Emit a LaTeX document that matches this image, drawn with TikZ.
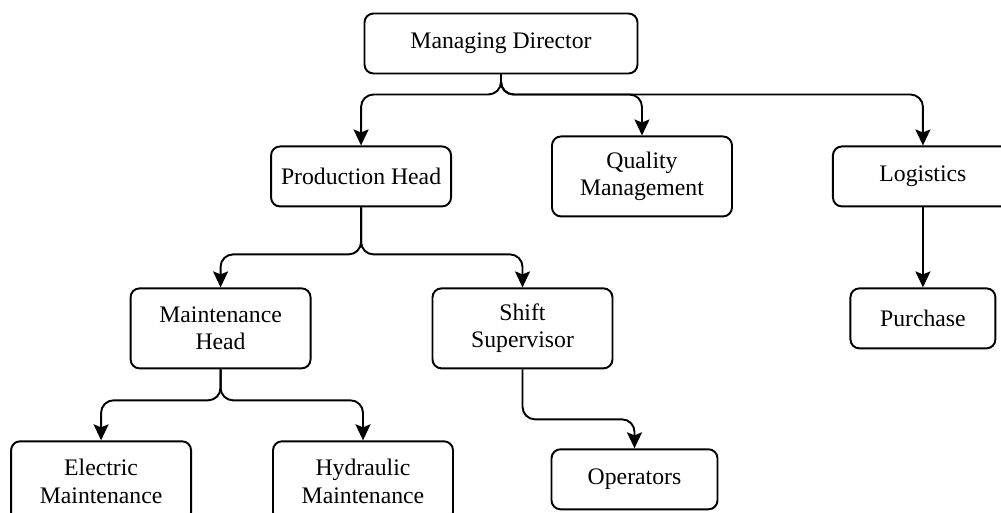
\documentclass[tikz,border=0pt]{standalone}
\usepackage{fontspec}
\setmainfont{Liberation Serif}
\usetikzlibrary{arrows.meta,positioning}

\begin{document}
\begin{tikzpicture}[-{Stealth[length=0.32cm,width=0.3cm,inset=0.06cm]},line width=1.1pt,
  box/.style={draw,rounded corners=0.18cm,minimum width=3.6cm,minimum height=1.2cm,align=center,inner sep=0pt,font=\fontsize{13.5}{15.5}\selectfont},
  tall/.style={box,minimum height=1.6cm},
  fork/.style={rounded corners=0.25cm,to path={(\tikztostart) -- ++(0,#1) -| (\tikztotarget)}}]
  \useasboundingbox (0,0) rectangle (20.02,-10.24);

  \node[box,minimum width=5.46cm] (md) at (10.02,-0.87) {Managing Director};
  \node[tall] (qm) [below=1.22cm of md,xshift=2.82cm] {Quality\\Management};
  \node[box] (ph) [left=1.98cm of qm] {Production Head};
  \node[box] (lg) [right=1.98cm of qm] {Logistics};
  \node[box,minimum width=2.9cm] (pu) [below=1.6cm of lg] {Purchase};
  \node[tall] (mh) [below=1.6cm of ph,xshift=-2.81cm] {Maintenance\\Head};
  \node[tall] (ss) [right=2.4cm of mh] {Shift\\Supervisor};
  \node[tall] (em) [below=1.42cm of mh,xshift=-2.39cm] {Electric\\Maintenance};
  \node[tall] (hm) [right=1.6cm of em] {Hydraulic\\Maintenance};
  \node[box,minimum width=3.32cm] (op) [below=1.58cm of ss,xshift=2.24cm] {Operators};

  \path
    (md.south) edge[fork=-0.4] (ph.north)
	edge[fork=-0.4] (qm.north)
	edge[fork=-0.4] (lg.north)

    (ph.south) edge[fork=-0.94] (mh.north)
	edge[fork=-0.94] (ss.north)

    (mh.south) edge[fork=-0.62] (em.north)
	edge[fork=-0.62] (hm.north)

    (ss.south) edge[fork=-1] (op.north)
    (lg) edge (pu);
\end{tikzpicture}
\end{document}
